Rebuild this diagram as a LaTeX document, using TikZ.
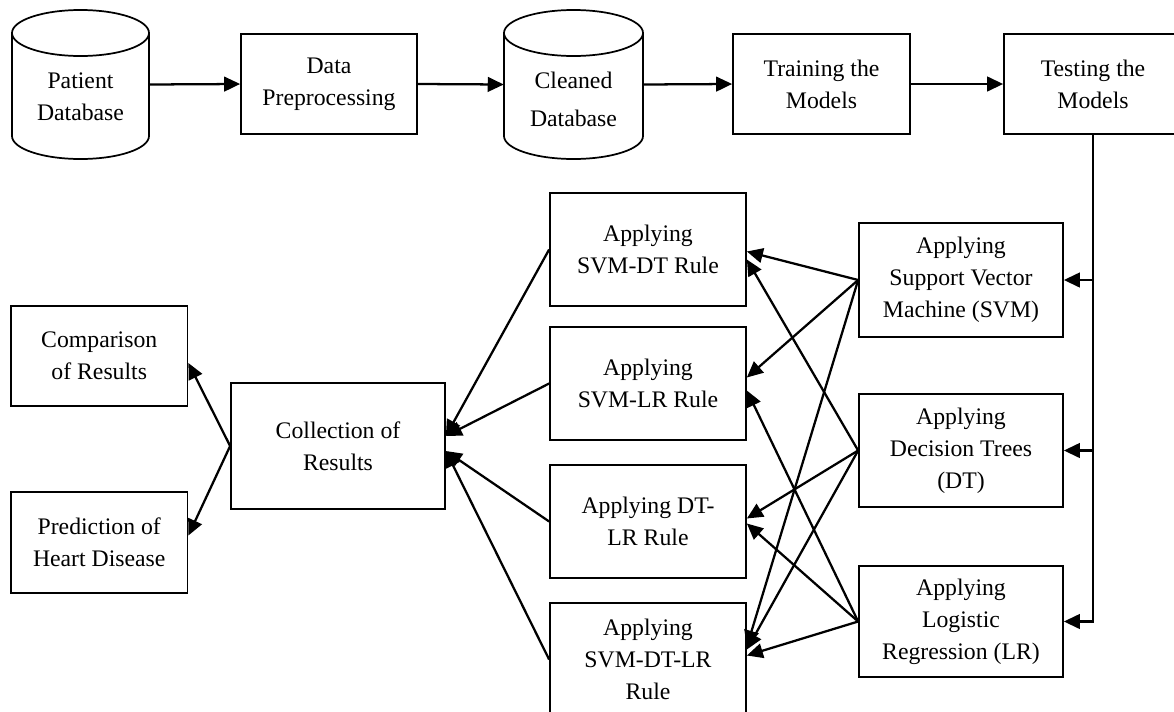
\documentclass[tikz,border=0pt]{standalone}
\usepackage{fontspec}
\setmainfont{Liberation Serif}
\usetikzlibrary{arrows.meta,calc}
\begin{document}
\begin{tikzpicture}[x=0.75pt,y=-0.75pt,
  txt/.style={align=center,inner sep=0pt,font=\fontsize{17.8}{24}\selectfont},
  box/.style={txt,draw,line width=1.3pt},
  sz/.style 2 args={minimum width=#1*0.75pt,minimum height=#2*0.75pt},
  conn/.style={line width=1.7pt,-{Triangle[length=12pt,width=11pt]}},
  cyl/.style={line width=1.3pt}]
\useasboundingbox (0,0) rectangle (1174,711);
\clip (0,0) rectangle (1174,711);

% top row
\node[sz={137}{149}] (pdb) at (80.5,84.5) {};
\node[txt] (pdbt) at (80.5,97) {Patient\\Database};
\draw[cyl] (12,33) -- (12,136) arc[start angle=180,end angle=0,x radius=68.5,y radius=23] -- (149,33);
\draw[cyl] (80.5,33) ellipse[x radius=68.5,y radius=23];

\node[box,sz={176}{100}] (data) at (329,84) {Data\\Preprocessing};

\node[sz={139}{149}] (cdb) at (573.5,84.5) {};
\node[txt,font=\fontsize{17.8}{28.5}\selectfont] (cdbt) at (573.5,99) {Cleaned\\Database};
\draw[cyl] (504,33) -- (504,136) arc[start angle=180,end angle=0,x radius=69.5,y radius=23] -- (643,33);
\draw[cyl] (573.5,33) ellipse[x radius=69.5,y radius=23];

\node[box,sz={177}{100}] (train) at (821.5,84) {Training the\\Models};
\node[box,sz={178}{100}] (test) at (1093,84) {Testing the\\Models};

% right column
\node[box,sz={204}{114}] (svm) at (961,280) {Applying\\Support Vector\\Machine (SVM)};
\node[box,sz={204}{113}] (dt) at (961,450.5) {Applying\\Decision Trees\\(DT)};
\node[box,sz={204}{111}] (lr) at (961,621.5) {Applying\\Logistic\\Regression (LR)};

% rule column
\node[box,sz={196}{113}] (svmdt) at (648,249.5) {Applying\\SVM-DT Rule};
\node[box,sz={196}{113}] (svmlr) at (648,383.5) {Applying\\SVM-LR Rule};
\node[box,sz={196}{113}] (dtlr) at (648,521.5) {Applying DT-\\LR Rule};
\node[box,sz={196}{113}] (svmdtlr) at (648,659.5) {Applying\\SVM-DT-LR\\Rule};

% left
\node[box,sz={214}{126}] (coll) at (338,446) {Collection of\\Results};
\node[box,sz={176.5}{100}] (cmp) at (99.25,356) {Comparison\\of Results};
\node[box,sz={176.5}{101}] (pred) at (99.25,542.5) {Prediction of\\Heart Disease};

% top arrows
\draw[conn] (pdb.east) -- (data.west);
\draw[conn] (data.west -| data.east) -- (cdb.west);
\draw[conn] (cdb.east) -- (train.west);
\draw[conn] (train.east) -- (test.west);

% bus
\draw[conn] (test.south) |- (lr.east);
\draw[conn] (test.south |- svm.east) -- (svm.east);
\draw[conn] (test.south |- dt.east) -- (dt.east);

% crossing arrows
\draw[conn] (svm.west) -- ($(svmdt.east)+(0,2)$);
\draw[conn] (dt.west) -- ($(svmdt.east)+(0,10)$);
\draw[conn] (svm.west) -- ($(svmlr.east)+(0,-6)$);
\draw[conn] (lr.west) -- ($(svmlr.east)+(0,7)$);
\draw[conn] (dt.west) -- ($(dtlr.east)+(0,-3)$);
\draw[conn] (lr.west) -- ($(dtlr.east)+(0,2)$);
\draw[conn] (svm.west) -- ($(svmdtlr.east)+(0,-13)$);
\draw[conn] (dt.west) -- ($(svmdtlr.east)+(0,-10)$);
\draw[conn] (lr.west) -- ($(svmdtlr.east)+(0,-4)$);

% to collection
\draw[conn] (svmdt.west) -- ($(coll.east)+(0,-10)$);
\draw[conn] (svmlr.west) -- ($(coll.east)+(0,-10)$);
\draw[conn] (dtlr.west) -- ($(coll.east)+(0,5)$);
\draw[conn] (svmdtlr.west) -- ($(coll.east)+(0,5)$);

% from collection
\draw[conn] (coll.west) -- ($(cmp.east)+(0,7)$);
\draw[conn] (coll.west) -- ($(pred.east)+(0,-7)$);
\end{tikzpicture}
\end{document}
